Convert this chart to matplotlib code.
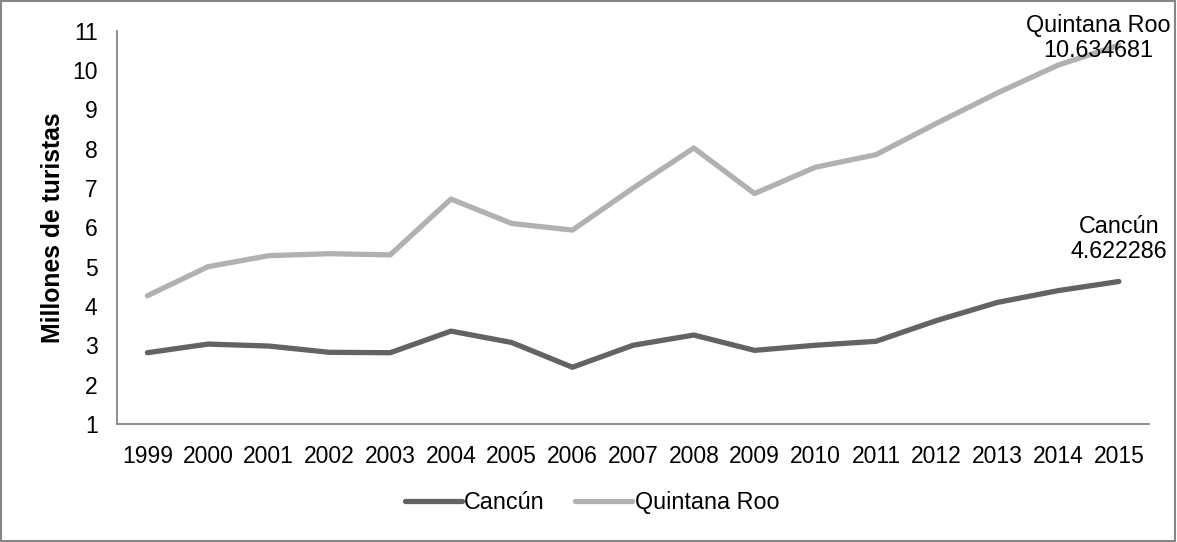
import matplotlib.pyplot as plt
from matplotlib.patches import Rectangle

# --- datos ---
anios = [str(a) for a in range(1999, 2016)]
cancun = [2.81, 3.03, 2.98, 2.82, 2.81, 3.36, 3.07, 2.44, 3.00, 3.26,
          2.87, 3.00, 3.10, 3.63, 4.09, 4.39, 4.622286]
quintana_roo = [4.26, 5.00, 5.28, 5.33, 5.30, 6.72, 6.10, 5.93, 7.00, 8.02,
                6.86, 7.53, 7.85, 8.65, 9.42, 10.13, 10.634681]

plt.rcParams['font.family'] = ['Liberation Sans', 'DejaVu Sans']

fig = plt.figure(figsize=(11.77, 5.42), dpi=100)
ax = fig.add_axes([0.0994, 0.218, 0.877, 0.725])

x = range(len(anios))
ax.plot(x, cancun, color='#636363', lw=3.8, solid_capstyle='round',
        solid_joinstyle='round', label='Cancún')
ax.plot(x, quintana_roo, color='#b1b1b1', lw=3.8, solid_capstyle='round',
        solid_joinstyle='round', label='Quintana Roo')

# etiquetas del último año
ax.annotate(f'Quintana Roo\n{quintana_roo[-1]:.6f}', (x[-1], quintana_roo[-1]),
            xytext=(-15, -12), textcoords='offset points', ha='center',
            va='bottom', fontsize=16.8, linespacing=1.12)
ax.annotate(f'Cancún\n{cancun[-1]:.6f}', (x[-1], cancun[-1]),
            xytext=(0, 13), textcoords='offset points', ha='center',
            va='bottom', fontsize=16.8, linespacing=1.12)

ax.set_xlim(-0.5, len(anios) - 0.5)
ax.set_ylim(1, 11)
ax.set_yticks(range(1, 12))
ax.set_xticks(list(x))
ax.set_xticklabels(anios)
ax.tick_params(length=0, labelsize=16.5)
ax.tick_params(axis='x', pad=15)
ax.tick_params(axis='y', pad=14)
for s in ['top', 'right']:
    ax.spines[s].set_visible(False)
for s in ['left', 'bottom']:
    ax.spines[s].set_color('#868686')
    ax.spines[s].set_linewidth(1.3)

ax.set_ylabel('Millones de turistas', fontsize=17.8, fontweight='bold', labelpad=5)

ax.legend(loc='center', bbox_to_anchor=(0.503, 0.072), bbox_transform=fig.transFigure,
          ncol=2, frameon=False, fontsize=16.8, handlelength=2.45,
          handletextpad=0.1, columnspacing=1.3)

# marco exterior
fig.patches.append(Rectangle((0.001, 0.002), 0.997, 0.996, transform=fig.transFigure,
                             fill=False, edgecolor='#868686', lw=1.5))

fig.savefig('out.png', dpi=100)
